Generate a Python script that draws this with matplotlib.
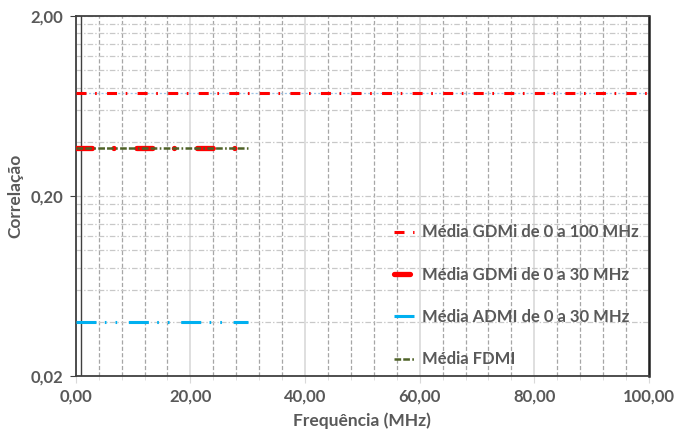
#!/usr/bin/env python3

import matplotlib

matplotlib.use("Agg")

import matplotlib.pyplot as plt
from matplotlib.ticker import FixedLocator, FuncFormatter, MultipleLocator, NullFormatter


# dados
freq_full = [0.0, 100.0]
gdmi_full = [0.75, 0.75]
freq_30 = [0.0, 30.0]
gdmi_30 = [0.37, 0.37]
admi_30 = [0.04, 0.04]
fdmi_30 = [0.37, 0.37]
marker_x = [1.0, 1.0]
marker_y = [0.02, 2.0]

y_ticks = [0.02, 0.2, 2.0]
labels = [
    "Média GDMi de 0 a 100 MHz",
    "Média GDMi de 0 a 30 MHz",
    "Média ADMI de 0 a 30 MHz",
    "Média FDMI",
]

TEXT = "#595959"

plt.rcParams["font.family"] = ["Lato", "DejaVu Sans"]
plt.rcParams["font.weight"] = "bold"
plt.rcParams["lines.scale_dashes"] = False


def comma(v, pos=None):
    return ("%.2f" % v).replace(".", ",")


fig = plt.figure(figsize=(6.76, 4.32), dpi=100)
ax = fig.add_axes([0.112, 0.130, 0.848, 0.833])

ax.set_yscale("log")
ax.set_xlim(0, 100)
ax.set_ylim(0.02, 2.0)

# grelha
ax.set_axisbelow(True)
ax.xaxis.set_major_locator(MultipleLocator(20))
ax.xaxis.set_minor_locator(MultipleLocator(4))
ax.xaxis.set_major_formatter(FuncFormatter(comma))
ax.yaxis.set_major_locator(FixedLocator(y_ticks))
ax.yaxis.set_minor_locator(FixedLocator([d * k for d in (0.02, 0.2) for k in range(2, 10)]))
ax.yaxis.set_major_formatter(FuncFormatter(comma))
ax.yaxis.set_minor_formatter(NullFormatter())

ax.grid(axis="x", which="major", color="#D9D9D9", linewidth=1.2, linestyle="-")
ax.grid(axis="x", which="minor", color="#A6A6A6", linewidth=0.9, linestyle=(0, (3, 1.6)))
ax.grid(axis="y", which="both", color="#C8C8C8", linewidth=0.9, linestyle=(0, (4, 1.5, 1, 1.5)))

# séries
ax.plot(marker_x, marker_y, color="#404040", linewidth=1.0, zorder=2)
ax.plot(freq_full, gdmi_full, color="#9DC3E6", linewidth=0.9, linestyle=(0, (1.5, 1.5)), zorder=2)
ax.plot(freq_full, gdmi_full, color="#FF0000", linewidth=2.2, linestyle=(0, (7.2, 6.2, 1.2, 7.4)),
        label=labels[0], zorder=3)
ax.plot(freq_30, gdmi_30, color="#FF0000", linewidth=3.8, linestyle=(0, (11.5, 15.5, 0.1, 16.4)),
        dash_capstyle="round", label=labels[1], zorder=3)
ax.plot(freq_30, admi_30, color="#00B0F0", linewidth=2.2, linestyle=(0, (14.4, 6.0, 1.2, 6.5, 1.2, 8.4)),
        label=labels[2], zorder=3)
ax.plot(freq_30, fdmi_30, color="#4F6228", linewidth=1.8, linestyle=(0, (4.8, 1.5, 4.8, 1.7, 1.2, 1.7)),
        label=labels[3], zorder=4)

# eixos
for side in ("left", "right", "top", "bottom"):
    ax.spines[side].set_color("#404040")
    ax.spines[side].set_linewidth(1.3)
ax.spines["right"].set_color("#202020")
ax.spines["right"].set_linewidth(1.8)

ax.tick_params(axis="x", which="major", length=5, color="#D9D9D9", labelsize=12, labelcolor=TEXT, pad=4)
ax.tick_params(axis="x", which="minor", length=3, color="#D9D9D9")
ax.tick_params(axis="y", which="major", length=4, color="#404040", labelsize=12, labelcolor=TEXT, pad=5)
ax.tick_params(axis="y", which="minor", length=0)

ax.set_xlabel("Frequência (MHz)", fontsize=12.5, color=TEXT, fontweight="bold", labelpad=6)
ax.set_ylabel("Correlação", fontsize=12.5, color=TEXT, fontweight="bold", labelpad=5)

leg = ax.legend(
    loc="upper left",
    bbox_to_anchor=(0.555, 0.421),
    frameon=False,
    fontsize=12,
    labelspacing=1.58,
    handlelength=1.2,
    handletextpad=0.5,
    borderpad=0,
    borderaxespad=0,
)
for t in leg.get_texts():
    t.set_color(TEXT)
    t.set_fontweight("bold")

fig.savefig("out.png", dpi=100)
plt.close(fig)
